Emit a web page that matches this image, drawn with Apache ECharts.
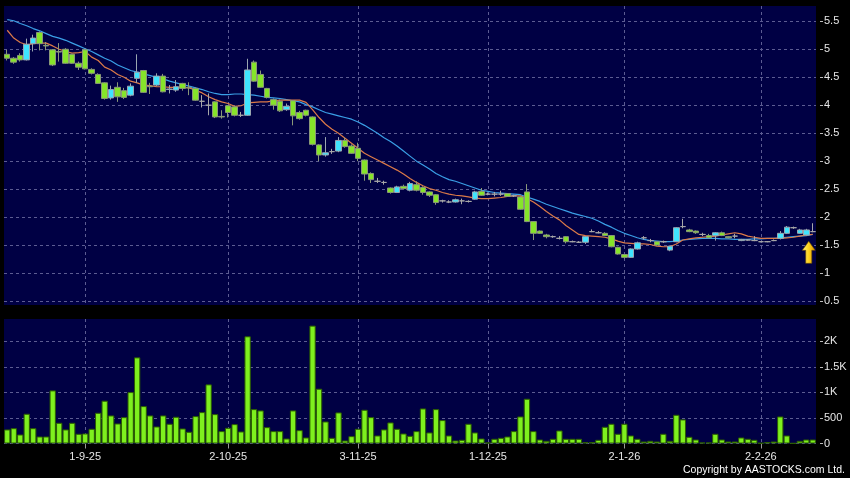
<!DOCTYPE html>
<html>
<head>
<meta charset="utf-8">
<script src="https://cdn.jsdelivr.net/npm/echarts@6/dist/echarts.min.js"></script>
<style>
html,body{margin:0;padding:0;background:#000;}
#chart{width:850px;height:478px;}
</style>
</head>
<body>
<div id="chart"></div>
<script>
// ---- Categories: HK trading days 14 Aug 2025 .. 12 Feb 2026 ----
const holidays = ['2025-10-01','2025-10-07','2025-10-29','2025-12-25','2025-12-26','2026-01-01'];
const dates = (function () {
  const out = [];
  const d = new Date(Date.UTC(2025, 7, 14));
  const end = new Date(Date.UTC(2026, 1, 12));
  while (d <= end) {
    const wd = d.getUTCDay();
    const iso = d.toISOString().slice(0, 10);
    if (wd !== 0 && wd !== 6 && holidays.indexOf(iso) < 0) {
      out.push(d.getUTCDate() + '-' + (d.getUTCMonth() + 1) + '-' + String(d.getUTCFullYear()).slice(2));
    }
    d.setUTCDate(d.getUTCDate() + 1);
  }
  return out;
})();

// ---- Price data ----
const opens = [4.91,4.84,4.89,4.81,5.10,5.30,5.07,4.99,4.96,5.00,4.91,4.75,4.99,4.64,4.55,4.40,4.13,4.32,4.26,4.18,
4.48,4.62,4.34,4.36,4.52,4.28,4.27,4.39,4.32,4.30,4.07,4.00,4.06,3.80,3.99,3.97,3.82,3.82,4.77,4.55,
4.30,4.10,4.07,3.92,4.08,3.87,3.91,3.79,3.29,3.11,3.17,3.18,3.37,3.27,3.23,3.02,2.78,2.64,2.62,2.52,
2.44,2.55,2.48,2.58,2.53,2.45,2.40,2.29,2.27,2.27,2.29,2.28,2.32,2.46,2.41,2.41,2.41,2.42,2.38,2.36,
2.45,1.92,1.75,1.68,1.65,1.62,1.65,1.56,1.55,1.55,1.74,1.72,1.71,1.67,1.46,1.33,1.28,1.43,1.63,1.58,
1.56,1.56,1.41,1.56,1.83,1.77,1.75,1.69,1.67,1.67,1.72,1.65,1.66,1.58,1.59,1.58,1.56,1.56,1.58,1.62,
1.71,1.81,1.71,1.68,1.74];
const highs = [4.99,4.86,4.93,5.19,5.26,5.32,5.13,5.00,5.11,5.02,4.92,4.78,5.01,4.66,4.57,4.41,4.35,4.41,4.31,4.39,
4.91,4.63,4.40,4.57,4.56,4.36,4.45,4.40,4.41,4.32,4.18,4.21,4.07,3.91,4.00,3.99,3.88,4.83,4.80,4.62,
4.31,4.12,4.10,4.03,4.09,3.90,3.92,3.80,3.30,3.43,3.22,3.43,3.42,3.30,3.33,3.03,2.80,2.70,2.65,2.53,
2.56,2.58,2.63,2.64,2.55,2.46,2.41,2.31,2.30,2.33,2.33,2.30,2.47,2.52,2.44,2.45,2.47,2.43,2.40,2.37,
2.59,1.93,1.76,1.70,1.67,1.66,1.66,1.58,1.57,1.66,1.78,1.75,1.73,1.68,1.47,1.34,1.44,1.56,1.66,1.61,
1.57,1.58,1.49,1.82,1.97,1.79,1.76,1.72,1.70,1.73,1.74,1.66,1.70,1.61,1.60,1.66,1.57,1.57,1.60,1.75,
1.84,1.83,1.79,1.79,1.89];
const lows = [4.80,4.74,4.78,4.80,4.96,4.98,4.98,4.70,4.78,4.74,4.74,4.63,4.64,4.55,4.38,4.10,4.10,4.06,4.11,4.16,
4.40,4.22,4.20,4.34,4.23,4.21,4.24,4.26,4.18,4.08,3.96,3.82,3.77,3.76,3.78,3.80,3.79,3.81,4.42,4.31,
4.12,3.92,3.88,3.90,3.64,3.74,3.80,3.28,3.00,3.08,3.13,3.16,3.24,3.13,3.00,2.65,2.61,2.61,2.58,2.42,
2.43,2.49,2.46,2.46,2.40,2.36,2.22,2.26,2.25,2.26,2.23,2.26,2.31,2.38,2.39,2.37,2.38,2.36,2.36,2.13,
1.91,1.59,1.70,1.62,1.63,1.60,1.53,1.55,1.54,1.52,1.73,1.71,1.66,1.46,1.33,1.26,1.27,1.42,1.60,1.55,
1.49,1.54,1.39,1.55,1.80,1.73,1.70,1.66,1.62,1.58,1.66,1.62,1.62,1.57,1.58,1.57,1.55,1.55,1.57,1.60,
1.70,1.79,1.70,1.67,1.73];
const closes = [4.84,4.77,4.81,5.09,5.20,5.10,5.06,4.72,4.95,4.75,4.75,4.68,4.65,4.57,4.39,4.12,4.28,4.15,4.14,4.34,
4.59,4.23,4.33,4.52,4.24,4.29,4.33,4.30,4.31,4.09,4.07,4.00,3.79,3.79,3.87,3.82,3.82,4.63,4.43,4.32,
4.14,4.00,3.90,3.98,3.81,3.76,3.82,3.30,3.11,3.15,3.17,3.37,3.26,3.14,3.05,2.77,2.67,2.64,2.62,2.44,
2.54,2.51,2.60,2.48,2.44,2.39,2.26,2.29,2.27,2.31,2.29,2.28,2.45,2.39,2.41,2.41,2.41,2.37,2.38,2.14,
1.92,1.71,1.71,1.65,1.65,1.62,1.56,1.56,1.55,1.65,1.74,1.72,1.67,1.47,1.34,1.28,1.43,1.54,1.63,1.58,
1.50,1.56,1.48,1.81,1.83,1.74,1.72,1.69,1.63,1.72,1.67,1.63,1.66,1.60,1.59,1.58,1.56,1.56,1.58,1.71,
1.82,1.81,1.77,1.77,1.74];

// ---- Moving averages ----
const maShort = [5.34,5.20,5.12,5.08,5.10,5.11,5.11,5.06,5.00,4.96,4.93,4.94,4.96,4.86,4.80,4.68,4.63,4.55,4.50,4.43,
4.40,4.36,4.35,4.33,4.33,4.32,4.32,4.32,4.31,4.27,4.22,4.15,4.10,4.06,4.03,3.98,3.99,4.04,4.05,4.06,
4.06,4.08,4.09,4.09,4.09,4.09,4.05,3.92,3.78,3.66,3.57,3.50,3.41,3.32,3.23,3.14,3.08,3.02,2.96,2.90,
2.84,2.77,2.69,2.62,2.56,2.51,2.48,2.44,2.41,2.39,2.38,2.36,2.34,2.33,2.33,2.34,2.35,2.37,2.38,2.38,
2.33,2.27,2.19,2.10,2.02,1.95,1.85,1.77,1.69,1.67,1.66,1.65,1.64,1.61,1.57,1.54,1.53,1.52,1.52,1.51,
1.48,1.47,1.47,1.52,1.59,1.61,1.63,1.64,1.65,1.66,1.68,1.70,1.72,1.70,1.66,1.64,1.62,1.62,1.62,1.62,
1.63,1.64,1.66,1.68,1.69];
const maLong = [5.53,5.51,5.46,5.42,5.37,5.33,5.28,5.23,5.20,5.16,5.11,5.06,5.01,4.96,4.90,4.84,4.79,4.72,4.67,4.62,
4.59,4.56,4.53,4.50,4.47,4.43,4.40,4.37,4.34,4.31,4.28,4.24,4.21,4.19,4.19,4.20,4.20,4.19,4.18,4.16,
4.14,4.13,4.12,4.10,4.08,4.06,4.01,3.97,3.92,3.87,3.84,3.81,3.78,3.75,3.70,3.64,3.57,3.50,3.42,3.35,
3.27,3.18,3.09,3.00,2.93,2.86,2.78,2.72,2.67,2.64,2.60,2.56,2.52,2.48,2.46,2.44,2.43,2.42,2.41,2.40,
2.36,2.32,2.28,2.23,2.19,2.15,2.11,2.07,2.04,2.01,1.98,1.93,1.87,1.82,1.76,1.71,1.67,1.63,1.60,1.58,
1.57,1.56,1.56,1.57,1.59,1.60,1.61,1.62,1.62,1.62,1.61,1.61,1.60,1.60,1.60,1.61,1.61,1.62,1.62,1.63,
1.64,1.65,1.66,1.67,1.69];

// ---- Volume ----
const volumes = [275,300,176,582,300,137,137,1039,405,275,405,190,196,288,601,837,549,392,516,1006,
1686,732,549,333,549,386,523,294,229,536,614,1157,575,242,307,379,235,2098,673,647,
320,242,242,98,647,261,118,2307,1072,431,111,608,59,144,288,660,516,157,275,412,
288,196,150,242,686,216,673,458,157,59,72,386,216,98,20,92,111,137,242,529,
876,242,78,52,92,255,92,92,92,26,26,72,327,386,190,386,157,92,39,52,
39,190,52,562,471,131,78,20,20,190,78,39,39,118,92,72,10,26,39,529,
157,5,52,78,78];

// ---- Axis ticks ----
const priceTicks = {min: 0.5, max: 5.5, interval: 0.5};
const volumeTicks = {min: 0, max: 2000, interval: 500};
const lastMarker = 1.37;

const monthStart = dates.map((d, i) => i > 0 && d.split('-')[1] !== dates[i - 1].split('-')[1]);
const showAt = (i) => !!monthStart[i];

const candleData = opens.map((o, i) => [o, closes[i], lows[i], highs[i]]);

const FONT = '"Liberation Sans", Arial, sans-serif';
const NAVY = '#000044';
const GRIDLINE = {color: '#5c5c92', type: [3, 3], width: 1};
const L = 4, R = 34;

const chart = echarts.init(document.getElementById('chart'), null, {renderer: 'canvas'});
chart.setOption({
  backgroundColor: '#000',
  animation: false,
  title: {
    text: 'Copyright by AASTOCKS.com Ltd.',
    right: 5, top: 465, padding: 0,
    textStyle: {color: '#ffffff', fontSize: 10.5, fontWeight: 'normal', fontFamily: FONT}
  },
  grid: [
    {left: L, right: R, top: 6, height: 299, show: true, backgroundColor: NAVY, borderWidth: 0},
    {left: L, right: R, top: 319, height: 125, show: true, backgroundColor: NAVY, borderWidth: 0},
    {left: L, right: R, top: 21.3, height: 279.7},
    {left: L, right: R, top: 341.3, height: 102.2}
  ],
  xAxis: [
    {gridIndex: 0, type: 'category', data: dates, axisLine: {show: false}, axisTick: {show: false}, axisLabel: {show: false},
      splitLine: {show: true, interval: showAt, alignWithLabel: true, lineStyle: GRIDLINE}},
    {gridIndex: 1, type: 'category', data: dates, axisLine: {show: false}, axisTick: {show: false}, axisLabel: {show: false},
      splitLine: {show: true, interval: showAt, alignWithLabel: true, lineStyle: GRIDLINE}},
    {gridIndex: 2, type: 'category', data: dates, show: false},
    {gridIndex: 3, type: 'category', data: dates,
      axisLine: {show: false},
      axisTick: {show: true, alignWithLabel: true, interval: showAt, length: 5, lineStyle: {color: '#9a9a9a'}},
      axisLabel: {show: true, interval: showAt, color: '#e6e6e6', fontSize: 11, fontFamily: FONT, margin: 8},
      splitLine: {show: false}}
  ],
  yAxis: [
    {gridIndex: 0, type: 'value', show: false, min: 0, max: 1},
    {gridIndex: 1, type: 'value', show: false, min: 0, max: 1},
    {gridIndex: 2, type: 'value', position: 'right', offset: 4,
      min: priceTicks.min, max: priceTicks.max, interval: priceTicks.interval,
      axisLine: {show: false},
      axisTick: {show: true, length: 3, lineStyle: {color: '#bdbdbd'}},
      axisLabel: {color: '#e6e6e6', fontSize: 11, fontFamily: FONT, margin: 4},
      splitLine: {show: true, lineStyle: GRIDLINE}},
    {gridIndex: 3, type: 'value', position: 'right', offset: 4,
      min: volumeTicks.min, max: volumeTicks.max, interval: volumeTicks.interval,
      axisLine: {show: false},
      axisTick: {show: true, length: 3, lineStyle: {color: '#bdbdbd'}},
      axisLabel: {color: '#e6e6e6', fontSize: 11, fontFamily: FONT, margin: 4,
        formatter: (v) => v >= 1000 ? (v / 1000) + 'K' : String(v)},
      splitLine: {show: true, lineStyle: GRIDLINE}}
  ],
  series: [
    {type: 'line', name: 'MA long', xAxisIndex: 2, yAxisIndex: 2, data: maLong, showSymbol: false, clip: false, z: 2,
      lineStyle: {color: '#3a9fe6', width: 1.2}},
    {type: 'line', name: 'MA short', xAxisIndex: 2, yAxisIndex: 2, data: maShort, showSymbol: false, clip: false, z: 2,
      lineStyle: {color: '#dc7a48', width: 1.2}},
    {type: 'candlestick', name: 'Price', xAxisIndex: 2, yAxisIndex: 2, data: candleData, barWidth: 6, z: 3, clip: false,
      itemStyle: {color: '#3fe4ff', color0: '#86e42a', borderColor: '#9aa6b0', borderColor0: '#8a9878',
        borderColorDoji: '#a8a8a8', borderWidth: 1},
      markPoint: {
        silent: true,
        data: [{coord: [dates[dates.length - 1], lastMarker]}],
        symbol: 'path://M6,0 L12,9 L8.8,9 L8.8,22 L3.2,22 L3.2,9 L0,9 Z',
        symbolSize: [13, 22],
        symbolOffset: [-4, 0],
        label: {show: false},
        itemStyle: {
          color: new echarts.graphic.LinearGradient(0, 0, 1, 0, [
            {offset: 0, color: '#fff07a'}, {offset: 0.5, color: '#ffd21c'}, {offset: 1, color: '#d98e00'}
          ]),
          borderColor: '#6b4a00', borderWidth: 0.6
        }
      }},
    {type: 'bar', name: 'Volume', xAxisIndex: 3, yAxisIndex: 3, data: volumes, barWidth: '97%', clip: false, z: 2,
      itemStyle: {color: '#7ef01e', borderColor: '#2c5e00', borderWidth: 1}}
  ]
});
</script>
</body>
</html>
